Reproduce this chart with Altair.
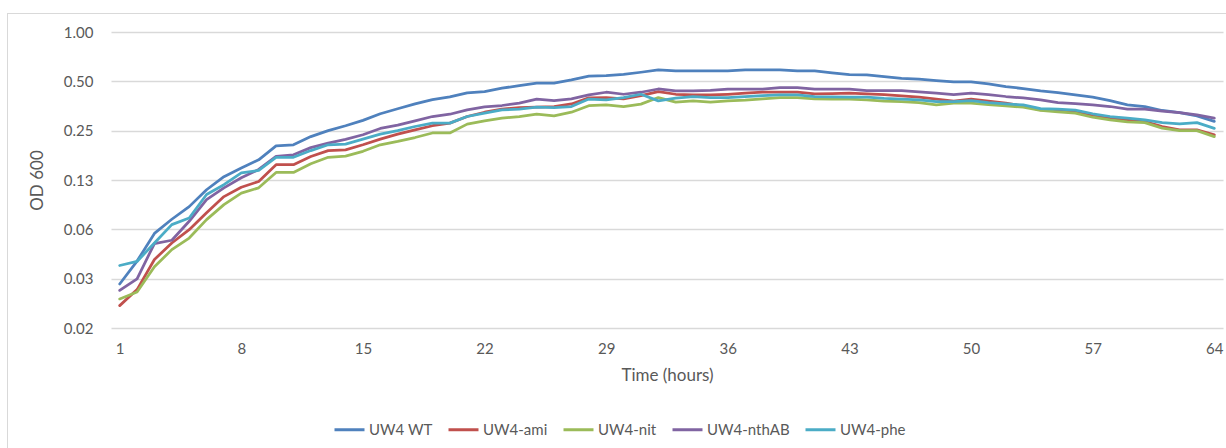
import altair as alt
import pandas as pd

# Optical density (OD 600) readings, one per hour, for each strain
hours = list(range(1, 65))
strains = ["UW4 WT", "UW4-ami", "UW4-nit", "UW4-nthAB", "UW4-phe"]
strain_colors = ["#4F81BD", "#C0504D", "#9BBB59", "#8064A2", "#4BACC6"]

od_wt = [0.029, 0.040, 0.059, 0.072, 0.086, 0.109, 0.131, 0.148, 0.166, 0.202,
         0.205, 0.230, 0.250, 0.268, 0.289, 0.317, 0.340, 0.364, 0.387, 0.402,
         0.425, 0.433, 0.454, 0.471, 0.487, 0.487, 0.510, 0.538, 0.542, 0.552,
         0.568, 0.587, 0.579, 0.579, 0.579, 0.579, 0.587, 0.587, 0.587, 0.579,
         0.579, 0.563, 0.549, 0.547, 0.534, 0.522, 0.515, 0.505, 0.496, 0.496,
         0.482, 0.464, 0.452, 0.437, 0.427, 0.413, 0.400, 0.381, 0.359, 0.351,
         0.332, 0.322, 0.308, 0.285]

od_ami = [0.0214, 0.0268, 0.0409, 0.0516, 0.0622, 0.079, 0.099, 0.113, 0.1225, 0.155,
          0.155, 0.174, 0.189, 0.191, 0.205, 0.222, 0.238, 0.253, 0.268, 0.278,
          0.305, 0.324, 0.338, 0.346, 0.348, 0.351, 0.364, 0.397, 0.398, 0.391,
          0.409, 0.433, 0.417, 0.413, 0.413, 0.417, 0.423, 0.429, 0.429, 0.429,
          0.419, 0.421, 0.423, 0.419, 0.415, 0.408, 0.400, 0.389, 0.379, 0.389,
          0.379, 0.368, 0.354, 0.335, 0.332, 0.325, 0.308, 0.298, 0.291, 0.284,
          0.265, 0.253, 0.253, 0.236]

od_nit = [0.0235, 0.0259, 0.0369, 0.047, 0.0553, 0.0716, 0.0884, 0.104, 0.112, 0.139,
          0.139, 0.157, 0.172, 0.175, 0.187, 0.205, 0.215, 0.227, 0.242, 0.242,
          0.274, 0.287, 0.298, 0.305, 0.315, 0.308, 0.324, 0.355, 0.359, 0.351,
          0.363, 0.398, 0.373, 0.380, 0.373, 0.380, 0.384, 0.391, 0.398, 0.398,
          0.391, 0.390, 0.389, 0.385, 0.379, 0.376, 0.371, 0.359, 0.368, 0.368,
          0.361, 0.354, 0.348, 0.332, 0.326, 0.320, 0.302, 0.291, 0.283, 0.280,
          0.259, 0.250, 0.250, 0.230]

od_nthab = [0.0265, 0.0312, 0.0512, 0.0536, 0.070, 0.095, 0.112, 0.129, 0.145, 0.174,
            0.178, 0.197, 0.210, 0.221, 0.236, 0.258, 0.270, 0.287, 0.305, 0.315,
            0.335, 0.349, 0.356, 0.368, 0.389, 0.381, 0.391, 0.413, 0.429, 0.417,
            0.429, 0.449, 0.437, 0.437, 0.441, 0.448, 0.448, 0.448, 0.458, 0.458,
            0.448, 0.448, 0.448, 0.439, 0.439, 0.439, 0.431, 0.423, 0.415, 0.423,
            0.415, 0.404, 0.396, 0.385, 0.371, 0.366, 0.359, 0.351, 0.338, 0.338,
            0.329, 0.322, 0.312, 0.298]

od_phe = [0.0376, 0.0398, 0.0516, 0.0668, 0.0733, 0.102, 0.117, 0.138, 0.143, 0.172,
          0.172, 0.189, 0.205, 0.207, 0.222, 0.238, 0.250, 0.265, 0.278, 0.278,
          0.305, 0.320, 0.335, 0.338, 0.348, 0.346, 0.351, 0.390, 0.385, 0.398,
          0.417, 0.380, 0.395, 0.404, 0.398, 0.398, 0.404, 0.409, 0.413, 0.413,
          0.404, 0.402, 0.400, 0.400, 0.393, 0.389, 0.385, 0.376, 0.376, 0.381,
          0.371, 0.364, 0.359, 0.341, 0.338, 0.334, 0.317, 0.305, 0.298, 0.291,
          0.280, 0.275, 0.280, 0.258]

x_tick_values = [1, 8, 15, 22, 29, 36, 43, 50, 57, 64]
y_tick_values = [1 / 64, 1 / 32, 1 / 16, 1 / 8, 1 / 4, 1 / 2, 1]

series = [od_wt, od_ami, od_nit, od_nthab, od_phe]
rows = []
for name, values in zip(strains, series):
    for h, v in zip(hours, values):
        rows.append({"hour": h, "od": v, "strain": name})
df = pd.DataFrame(rows)

FONT = "Lato"
TEXT = "#595959"
GRID = "#D9D9D9"

lines = alt.Chart(df).mark_line(strokeWidth=2.75, strokeCap="round", strokeJoin="round").encode(
    x=alt.X(
        "hour:Q",
        scale=alt.Scale(domain=[0.5, 64.5], nice=False, zero=False),
        axis=alt.Axis(
            values=x_tick_values, format="d", grid=False, ticks=False, domain=False,
            labelPadding=13, labelFontSize=15, labelColor=TEXT, labelFont=FONT,
            title="Time (hours)", titleFontSize=17, titleColor=TEXT, titleFont=FONT,
            titleFontWeight="normal", titlePadding=11,
        ),
    ),
    y=alt.Y(
        "od:Q",
        scale=alt.Scale(type="log", base=2, domain=[1 / 64, 1], nice=False),
        axis=alt.Axis(
            values=y_tick_values, format=".2f", grid=True, gridColor=GRID, gridWidth=1.5,
            ticks=False, domain=False, labelPadding=18, labelFontSize=15,
            labelColor=TEXT, labelFont=FONT,
            title="OD 600", titleFontSize=17, titleColor=TEXT, titleFont=FONT,
            titleFontWeight="normal", titlePadding=17,
        ),
    ),
    color=alt.Color(
        "strain:N",
        scale=alt.Scale(domain=strains, range=strain_colors),
        legend=alt.Legend(
            title=None, orient="none", direction="horizontal", columns=5,
            legendX=222, legendY=381, symbolType="stroke", symbolSize=900,
            symbolStrokeWidth=3, labelFontSize=15, labelColor=TEXT, labelFont=FONT,
            labelOffset=3, columnPadding=9,
        ),
    ),
)

# thin frame around the whole chart
frame = alt.Chart(df).mark_rect(filled=False, stroke=GRID, strokeWidth=1).encode(
    x=alt.value(-103.5), x2=alt.value(1300), y=alt.value(-18.5), y2=alt.value(600)
)

chart = alt.layer(frame, lines).properties(
    width=1112, height=296,
    autosize=alt.AutoSizeParams(type="none"),
    padding={"left": 111, "top": 32, "right": 3, "bottom": 120},
    background="white",
).configure_view(stroke=None)

chart.save("out.html", embed_options={"renderer": "svg", "actions": False})
